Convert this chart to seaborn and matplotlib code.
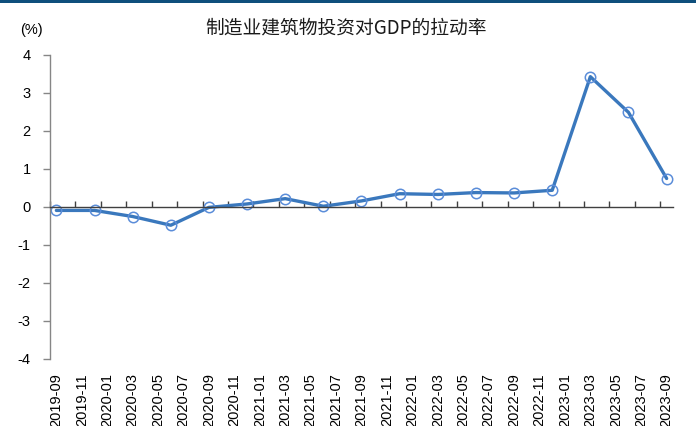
import matplotlib
matplotlib.use("Agg")
import matplotlib.pyplot as plt
import matplotlib.patches as mpatches
import seaborn as sns
import pandas as pd
import numpy as np

# ---- data ----
quarters = ["2019-09", "2019-12", "2020-03", "2020-06", "2020-09", "2020-12",
            "2021-03", "2021-06", "2021-09", "2021-12", "2022-03", "2022-06",
            "2022-09", "2022-12", "2023-03", "2023-06", "2023-09"]
values = [-0.09, -0.09, -0.25, -0.48, -0.01, 0.08, 0.22, 0.02, 0.16, 0.35,
          0.33, 0.38, 0.37, 0.44, 3.43, 2.49, 0.75]
month_labels = pd.period_range("2019-09", "2023-09", freq="M").strftime("%Y-%m").tolist()
yticks = [-4, -3, -2, -1, 0, 1, 2, 3, 4]

title = "制造业建筑物投资对GDP的拉动率"
unit = "(%)"

# ---- prep ----
start = pd.Period(month_labels[0], freq="M")
pos = [(pd.Period(q, freq="M") - start).n + 0.5 for q in quarters]
df = pd.DataFrame({"x": pos, "y": values})
n_months = len(month_labels)

sns.set_theme(style="white")
plt.rcParams["font.family"] = ["Liberation Sans", "DejaVu Sans"]

fig = plt.figure(figsize=(6.96, 4.26), dpi=100)
ax = fig.add_axes([50/696, 67/426, 623/696, 304/426])

line_color = "#3A78BD"
sns.lineplot(data=df, x="x", y="y", ax=ax, color=line_color, linewidth=2.4,
             marker="o", markersize=7.5, markerfacecolor="none",
             markeredgecolor="#5B8DD9", markeredgewidth=1.1)

ax.set_xlim(0, n_months)
ax.set_ylim(-4, 4)
ax.set_yticks(yticks)
ax.set_yticklabels([str(v) for v in yticks])
ax.set_xlabel("")
ax.set_ylabel("")

for s in ["top", "right"]:
    ax.spines[s].set_visible(False)
ax.spines["left"].set_color("#868686")
ax.spines["left"].set_linewidth(1.0)
ax.spines["bottom"].set_position(("data", 0))
ax.spines["bottom"].set_color("#404040")
ax.spines["bottom"].set_linewidth(1.0)

ax.set_xticks(np.arange(0, n_months, 2))
ax.tick_params(axis="x", direction="in", length=4, width=1, color="#404040",
               labelbottom=False, bottom=True)
ax.tick_params(axis="y", direction="out", length=5, width=1, color="#868686",
               left=True, labelsize=10.5, labelcolor="#000000", pad=9)

sec = ax.secondary_xaxis("bottom")
sec.spines["bottom"].set_visible(False)
lab_pos = np.arange(0, n_months, 2) + 0.5
sec.set_xticks(lab_pos)
sec.set_xticklabels(month_labels[::2], rotation=90, fontsize=10.5, color="#000000")
sec.tick_params(axis="x", length=0, pad=10)

fig.text(346/696, 1 - 28/426, title, ha="center", va="center", fontsize=13.5,
         family=["Noto Sans CJK SC", "DejaVu Sans"], color="#1A1A1A")
fig.text(31/696, 1 - 30/426, unit, ha="center", va="center", fontsize=10.5,
         color="#000000")

fig.add_artist(mpatches.Rectangle((0, 1 - 3/426), 1, 3/426, transform=fig.transFigure,
                                  facecolor="#0E4F7C", edgecolor="none"))

fig.savefig("out.png", dpi=100)
